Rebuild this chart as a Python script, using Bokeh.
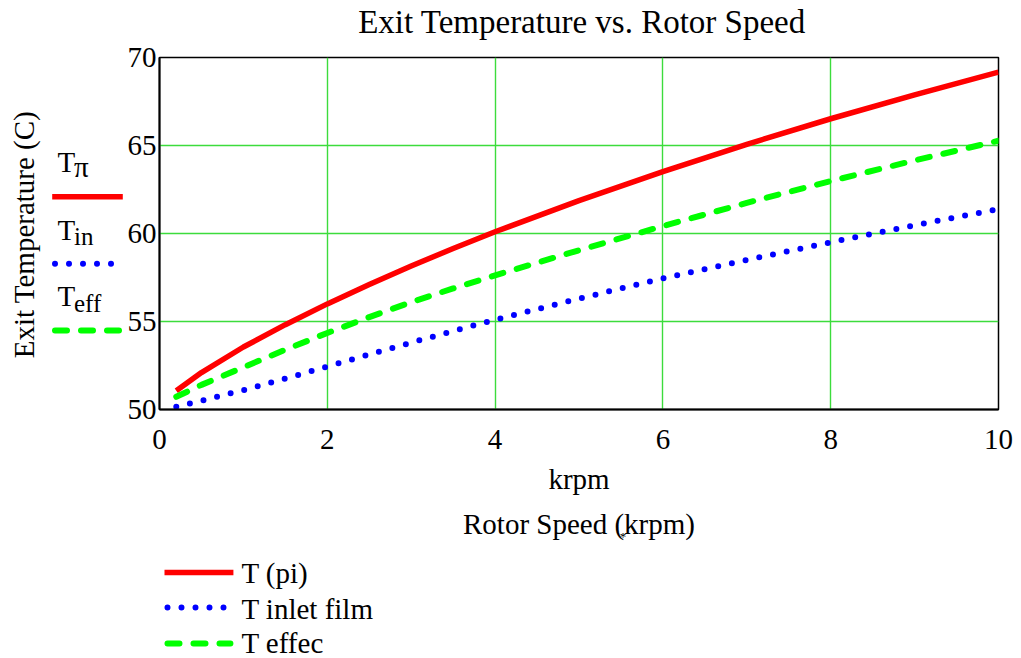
import math
from bokeh.plotting import figure
from bokeh.layouts import row, column
from bokeh.models import Range1d, FixedTicker
from bokeh.core.properties import value
from bokeh.embed import file_html
from bokeh.resources import INLINE

# ---------------- data ----------------
speed_krpm = [0.2, 0.5, 1, 1.5, 2, 2.5, 3, 3.5, 4, 5, 6, 7, 8, 9, 10]
t_pi = [51.07, 52.1, 53.55, 54.82, 56.0, 57.1, 58.15, 59.15, 60.1, 61.87, 63.52, 65.07, 66.52, 67.88, 69.17]
t_inlet_film = [50.15, 50.5, 51.1, 51.76, 52.44, 53.13, 53.8, 54.46, 55.1, 56.3, 57.45, 58.5, 59.5, 60.47, 61.38]
t_effec = [50.72, 51.4, 52.4, 53.4, 54.35, 55.25, 56.1, 56.88, 57.62, 59.05, 60.42, 61.74, 62.98, 64.15, 65.27]

x_ticks = [0, 2, 4, 6, 8, 10]
y_ticks = [50, 55, 60, 65, 70]

title_text = "Exit Temperature vs. Rotor Speed"
x_label = "krpm"
x_label2 = "Rotor Speed (krpm)"
y_label = "Exit Temperature (C)"
legend_names = ["T (pi)", "T inlet film", "T effec"]
side_subs = ["\u03c0", "in", "eff"]
side_sub_sizes = [29, 25, 25]

FONT = "Liberation Serif"
RED, BLUE, GREEN = "#ff0000", "#0000ff", "#00ff00"
GRID = "#3cdc3c"
DOT = "0 14"
DASH = "12 14"
colors = [RED, BLUE, GREEN]
dashes = ["solid", DOT, DASH]
widths = [5.5, 6, 6]
caps = ["butt", "round", "round"]

# ---------------- layout geometry (page pixels) ----------------
PAGE_W, PAGE_H = 1021, 658
STRIP_W = 124                 # left strip: y-axis title and side legend
FRAME_L, FRAME_R = 158, 998   # plot frame, page x
FRAME_T, FRAME_B = 57, 409    # plot frame, page y
TOP_H = 42                    # title strip
BOT_Y = 500                   # start of bottom strip
COL_W = PAGE_W - STRIP_W
BL = FRAME_L - STRIP_W
BR = PAGE_W - FRAME_R
ASC_MID = 0.3375              # baseline -> em-box middle, in em


def blank_fig(w, h, x0, x1, y0, y1, bl=0, br=0):
    f = figure(width=w, height=h, x_range=Range1d(x0, x1),
               y_range=Range1d(y1, y0), output_backend="svg",
               toolbar_location=None, min_border=0,
               min_border_left=bl, min_border_right=br,
               min_border_top=0, min_border_bottom=0,
               x_axis_type=None, y_axis_type=None)
    f.outline_line_color = None
    f.background_fill_color = "white"
    f.border_fill_color = "white"
    return f


def txt(f, t, x, base, size, align="left", angle=0.0, vertical=False):
    """place text by its alphabetic baseline (page px)"""
    off = ASC_MID * size
    if vertical:
        x, y = x - off, base
    else:
        y = base - off
    f.text(x=[x], y=[y], text=[t], text_font=value(FONT),
           text_font_size=value(f"{size}px"), text_color="black",
           text_align=align, text_baseline="middle", angle=angle)


def sample(f, x0, x1, y, i):
    f.line(x=[x0, x1], y=[y, y], line_color=colors[i], line_width=widths[i],
           line_dash=dashes[i], line_cap=caps[i])


# ---------------- title strip ----------------
top = blank_fig(COL_W, TOP_H, FRAME_L, FRAME_R, 0, TOP_H, BL, BR)
txt(top, title_text, 581, 33, 33, align="center")

# ---------------- main chart ----------------
MAIN_H = BOT_Y - TOP_H
p = figure(width=COL_W, height=MAIN_H, x_range=Range1d(0, 10), y_range=Range1d(50, 70),
           output_backend="svg", toolbar_location=None,
           min_border_left=BL, min_border_right=BR,
           min_border_top=FRAME_T - TOP_H, min_border_bottom=BOT_Y - FRAME_B)
p.background_fill_color = "white"
p.border_fill_color = "white"
p.outline_line_color = "black"
p.outline_line_width = 1.5

for ax in (p.xaxis[0], p.yaxis[0]):
    ax.major_label_text_font = FONT
    ax.major_label_text_font_size = "29px"
    ax.major_label_text_color = "black"
    ax.major_tick_in = 0
    ax.major_tick_out = 0
    ax.minor_tick_in = 0
    ax.minor_tick_out = 0
    ax.axis_line_color = "black"
    ax.axis_line_width = 2
    ax.axis_label_text_font = FONT
    ax.axis_label_text_font_style = "normal"
    ax.axis_label_text_color = "black"

p.xaxis.ticker = FixedTicker(ticks=x_ticks)
p.yaxis.ticker = FixedTicker(ticks=y_ticks)
p.xaxis.major_label_standoff = 20
p.yaxis.major_label_standoff = 3
p.xaxis.axis_label = x_label
p.xaxis.axis_label_text_font_size = "29px"
p.xaxis.axis_label_standoff = 11

p.xgrid.ticker = FixedTicker(ticks=x_ticks)
p.ygrid.ticker = FixedTicker(ticks=y_ticks)
for g in (p.xgrid[0], p.ygrid[0]):
    g.grid_line_color = GRID
    g.grid_line_width = 1.4

p.line(speed_krpm, t_pi, line_color=RED, line_width=5.5, line_join="round")
p.line(speed_krpm, t_inlet_film, line_color=BLUE, line_width=6,
       line_dash=DOT, line_cap="round")
p.line(speed_krpm, t_effec, line_color=GREEN, line_width=6,
       line_dash=DASH, line_cap="round")

# ---------------- left strip: y title + side legend ----------------
left = blank_fig(STRIP_W, PAGE_H, 0, STRIP_W, 0, PAGE_H)
txt(left, y_label, 33, 234, 29, align="center", angle=math.pi / 2, vertical=True)
side_T_base = [171.7, 239, 305]
side_sub_base = [176.5, 244.3, 311]
side_line_y = [196.3, 263.3, 330]
for i in range(3):
    txt(left, "T", 57, side_T_base[i], 29)
    txt(left, side_subs[i], 73.5, side_sub_base[i], side_sub_sizes[i])
    if caps[i] == "round":
        sample(left, 54.5, 119.5, side_line_y[i], i)
    else:
        sample(left, 51.7, 122.3, side_line_y[i], i)

# ---------------- bottom strip: axis title + legend ----------------
bot = blank_fig(COL_W, PAGE_H - BOT_Y, FRAME_L, FRAME_R, BOT_Y, PAGE_H, BL, BR)
txt(bot, x_label2, 578, 533, 29, align="center")
txt(bot, "*", 622, 540, 13, align="center")
bot_line_y = [572, 607, 643]
bot_text_base = [582, 618, 652]
for i in range(3):
    if caps[i] == "round":
        sample(bot, 166, 229, bot_line_y[i], i)
    else:
        sample(bot, 163, 232, bot_line_y[i], i)
    txt(bot, legend_names[i], 240, bot_text_base[i], 29)

layout = row(left, column(top, p, bot))
open("out.html", "w").write(file_html(layout, INLINE))
